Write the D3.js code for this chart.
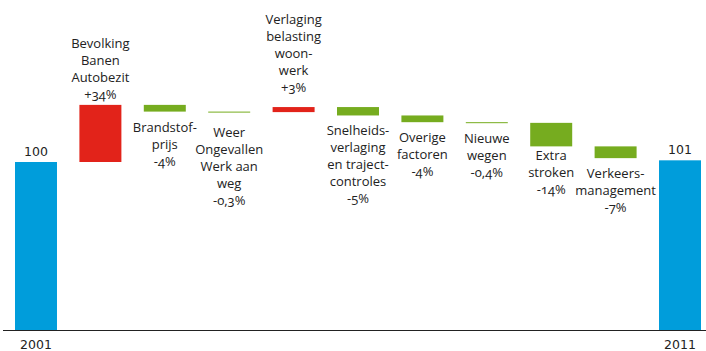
<!DOCTYPE html>
<html>
<head>
<meta charset="utf-8">
<script src="https://cdn.jsdelivr.net/npm/d3@7/dist/d3.min.js"></script>
<style>
  html, body { margin: 0; padding: 0; background: #fff; }
  svg { display: block; }
  .lbl { font-family: "Open Sans", "Noto Sans", sans-serif; font-size: 13px; fill: #222; font-variant-numeric: oldstyle-nums; }
  .total { font-family: "DejaVu Sans", sans-serif; font-size: 12.5px; fill: #222; }
</style>
</head>
<body>
<svg id="chart" width="706" height="351"></svg>
<script>
// Waterfall: congestion index 2001 -> 2011 and the contributing factors
const startYear = "2001";
const endYear = "2011";
const startValue = 100;
const endValue = 101;

const stepLabels = [
  ["Bevolking", "Banen", "Autobezit"],
  ["Brandstof-", "prijs"],
  ["Weer", "Ongevallen", "Werk aan", "weg"],
  ["Verlaging", "belasting", "woon-", "werk"],
  ["Snelheids-", "verlaging", "en traject-", "controles"],
  ["Overige", "factoren"],
  ["Nieuwe", "wegen"],
  ["Extra", "stroken"],
  ["Verkeers-", "management"]
];
const stepValues = [34, -4, -0.3, 3, -5, -4, -0.4, -14, -7];

const colors = { total: "#009ddb", up: "#e2231a", down: "#76ac1f", text: "#222" };

const W = 706, H = 351;
const svg = d3.select("#chart");

// Build the running levels for every step
let level = startValue;
const steps = stepValues.map((v, i) => {
  const from = level;
  level += v;
  return { key: "s" + i, lines: stepLabels[i], value: v, from, to: level };
});

const keys = [startYear, ...steps.map(d => d.key), endYear];

const x = d3.scaleBand().domain(keys).range([15, 701]).paddingInner(0.348).paddingOuter(0);
const y = d3.scaleLinear().domain([0, 100]).range([330, 162]);

const lineH = 17;
const fmt = v => (v > 0 ? "+" : "-") + String(Math.abs(v)).replace(".", ",") + "%";

// small label adjustments to keep text clear of neighbours
const belowShift = { s2: 5, s7: -6 };
const aboveShift = { s3: -10 };

// totals
const totals = [
  { key: startYear, value: startValue },
  { key: endYear, value: endValue }
];
svg.selectAll("rect.total-bar").data(totals).join("rect")
  .attr("class", "total-bar")
  .attr("x", d => x(d.key))
  .attr("width", x.bandwidth())
  .attr("y", d => y(d.value))
  .attr("height", d => y(0) - y(d.value))
  .attr("fill", colors.total);

svg.selectAll("text.totv").data(totals).join("text")
  .attr("class", "total totv")
  .attr("x", d => x(d.key) + x.bandwidth() / 2)
  .attr("y", d => y(d.value) - 6)
  .attr("text-anchor", "middle")
  .text(d => d.value);

svg.selectAll("text.year").data(totals).join("text")
  .attr("class", "total year")
  .attr("x", d => x(d.key) + x.bandwidth() / 2)
  .attr("y", 349)
  .attr("text-anchor", "middle")
  .attr("font-size", "14px")
  .text(d => d.key);

// step bars
svg.selectAll("rect.step").data(steps).join("rect")
  .attr("class", "step")
  .attr("x", d => x(d.key))
  .attr("width", x.bandwidth())
  .attr("y", d => y(Math.max(d.from, d.to)))
  .attr("height", d => Math.max(1, Math.abs(y(d.from) - y(d.to))))
  .attr("fill", d => d.value > 0 ? colors.up : colors.down);

// step labels: above rising bars, below falling bars
steps.forEach(d => {
  const lines = [...d.lines, fmt(d.value)];
  const cx = x(d.key) + x.bandwidth() / 2;
  const t = svg.append("text").attr("class", "lbl").attr("text-anchor", "middle");
  let firstBase;
  if (d.value > 0) {
    const top = y(Math.max(d.from, d.to));
    const lastBase = top - 5.5 + (aboveShift[d.key] || 0);
    firstBase = lastBase - (lines.length - 1) * lineH;
  } else {
    const bottom = y(Math.min(d.from, d.to));
    firstBase = bottom + 20 + (belowShift[d.key] || 0);
  }
  lines.forEach((s, i) => {
    t.append("tspan").attr("x", cx).attr("y", firstBase + i * lineH).text(s);
  });
});

// base line
svg.append("line")
  .attr("x1", 3).attr("x2", W)
  .attr("y1", y(0) + 0.5).attr("y2", y(0) + 0.5)
  .attr("stroke", "#222").attr("stroke-width", 1);
</script>
</body>
</html>
